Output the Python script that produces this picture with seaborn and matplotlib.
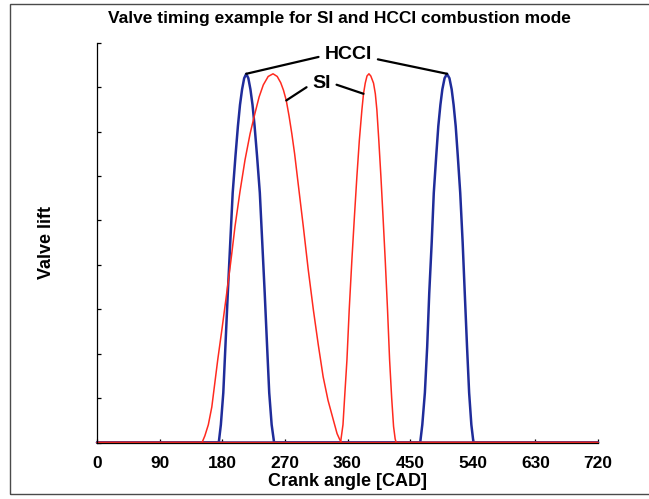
import matplotlib
matplotlib.use("Agg")
import matplotlib.pyplot as plt
import seaborn as sns
import pandas as pd
from matplotlib.patches import Rectangle

# ---------------- data ----------------
hcci_exh_angle = [0, 175, 178, 181.5, 184.5, 188, 191.5, 195, 199, 202.5, 205.5, 208.5, 211.5,
                  214.5, 217.5, 220.5, 223.5, 226.5, 230, 234, 237.5, 241, 244.5, 247.5, 251, 254.5, 720]
hcci_exh_lift = [0, 0, 0.4, 1.12, 2.15, 3.37, 4.5, 5.62, 6.45, 7.12, 7.6, 7.95, 8.2,
                 8.3, 8.2, 7.95, 7.6, 7.12, 6.45, 5.62, 4.5, 3.37, 2.15, 1.12, 0.4, 0, 0]

hcci_int_angle = [0, 464.5, 467.5, 471.2, 474.5, 477.5, 481, 484, 487.5, 490.5, 493.5, 496.3, 499.5,
                  503, 506.5, 509.7, 512.5, 515.5, 518.5, 522, 525.5, 528.5, 531.8, 534.8, 538, 541, 720]
hcci_int_lift = [0, 0, 0.4, 1.12, 2.15, 3.37, 4.5, 5.62, 6.45, 7.12, 7.6, 7.95, 8.2,
                 8.3, 8.2, 7.95, 7.6, 7.12, 6.45, 5.62, 4.5, 3.37, 2.15, 1.12, 0.4, 0, 0]

si_exh_angle = [0, 151, 155, 160, 165, 173.5, 180, 186.4, 192.5, 198.3, 205.5, 212.7, 220, 227, 233,
                239, 246, 253, 259, 264, 268, 272, 276, 280, 284, 289, 296.5, 303.5, 311, 318, 325,
                332, 339.6, 345, 349, 351.5, 720]
si_exh_lift = [0, 0, 0.15, 0.4, 0.8, 1.86, 2.6, 3.36, 4.1, 4.86, 5.65, 6.36, 6.95, 7.41, 7.78,
               8.05, 8.24, 8.3, 8.24, 8.1, 7.93, 7.7, 7.35, 6.95, 6.5, 5.84, 4.86, 3.9, 2.98, 2.2, 1.48,
               0.95, 0.51, 0.2, 0.06, 0, 0]

si_int_angle = [0, 350, 353.5, 356, 359.2, 362.5, 366.3, 370, 373.5, 377, 380.7, 383, 385.5, 388,
                390.8, 393.5, 397.4, 400, 402.2, 405, 408, 411, 414.2, 417.5, 420.5, 423.5,
                426.2, 428.5, 430, 720]
si_int_lift = [0, 0, 0.4, 1.05, 1.86, 3.0, 4.11, 5.1, 5.99, 6.8, 7.49, 7.85, 8.09, 8.25,
               8.3, 8.25, 8.09, 7.85, 7.49, 6.8, 5.99, 5.1, 4.11, 3.0, 1.86, 1.0,
               0.36, 0.08, 0, 0]

x_ticks = [0, 90, 180, 270, 360, 450, 540, 630, 720]
y_ticks = [0, 1, 2, 3, 4, 5, 6, 7, 8, 9]

title = "Valve timing example for SI and HCCI combustion mode"
x_label = "Crank angle [CAD]"
y_label = "Valve lift"

# ---------------- build long-form table ----------------
frames = []
for mode, valve, ang, lift in [("HCCI", "exhaust", hcci_exh_angle, hcci_exh_lift),
                               ("HCCI", "intake", hcci_int_angle, hcci_int_lift),
                               ("SI", "exhaust", si_exh_angle, si_exh_lift),
                               ("SI", "intake", si_int_angle, si_int_lift)]:
    frames.append(pd.DataFrame({"angle": ang, "lift": lift, "mode": mode, "valve": valve}))
df = pd.concat(frames, ignore_index=True)

# ---------------- style ----------------
sns.set_theme(style="ticks")
plt.rcParams["font.family"] = ["Liberation Sans", "DejaVu Sans"]
plt.rcParams["font.weight"] = "bold"
plt.rcParams["text.color"] = "black"
plt.rcParams["axes.labelcolor"] = "black"
plt.rcParams["xtick.color"] = "black"
plt.rcParams["ytick.color"] = "black"

BLUE = "#1f2c9a"
RED = "#ff2a1f"

fig = plt.figure(figsize=(6.49, 4.99), dpi=100)
fig.patch.set_facecolor("white")
ax = fig.add_axes([97 / 649, 1 - 442.5 / 499, (598 - 97) / 649, (442.5 - 42.7) / 499])

sns.lineplot(data=df[df["mode"] == "HCCI"], x="angle", y="lift", units="valve",
             estimator=None, color=BLUE, linewidth=1.8, ax=ax, legend=False, sort=False)
sns.lineplot(data=df[df["mode"] == "SI"], x="angle", y="lift", units="valve",
             estimator=None, color=RED, linewidth=1.1, ax=ax, legend=False, sort=False)
for ln in ax.lines:
    ln.set_clip_on(False)

ax.set_xlim(0, 720)
ax.set_ylim(0, 9)
ax.set_xticks(x_ticks)
ax.set_xticklabels([str(t) for t in x_ticks])
ax.set_yticks(y_ticks)
ax.set_yticklabels([])
ax.tick_params(axis="both", direction="in", length=3, width=0.9, color="black")
ax.tick_params(axis="x", labelsize=12.5, pad=10, labelcolor="black")
for lab in ax.get_xticklabels():
    lab.set_fontweight("bold")
sns.despine(ax=ax)
for s in ("left", "bottom"):
    ax.spines[s].set_linewidth(0.9)
    ax.spines[s].set_color("black")
ax.set_xlabel(x_label, fontsize=13, fontweight="bold", labelpad=1, color="black")
ax.set_ylabel(y_label, fontsize=13, fontweight="bold", labelpad=27, color="black")
fig.text(339 / 649, 1 - 18.5 / 499, title, ha="center", va="center",
         fontsize=12.5, fontweight="bold", color="black")

# ---------------- leader labels ----------------
lead = dict(arrowstyle="-", color="black", lw=1.6, shrinkA=2, shrinkB=0)
i_h1 = hcci_exh_lift.index(max(hcci_exh_lift))
i_h2 = hcci_int_lift.index(max(hcci_int_lift))
ax.annotate("HCCI", xy=(hcci_exh_angle[i_h1], hcci_exh_lift[i_h1]), xytext=(361, 8.73),
            ha="center", va="center", fontsize=14, fontweight="bold", color="black",
            arrowprops=dict(lead, relpos=(0, 0.45)))
ax.annotate("HCCI", xy=(hcci_int_angle[i_h2], hcci_int_lift[i_h2]), xytext=(361, 8.73),
            ha="center", va="center", fontsize=14, fontweight="bold", alpha=0,
            arrowprops=dict(lead, relpos=(1, 0.3)))
i_s1 = si_exh_angle.index(272)
i_s2 = si_int_angle.index(383)
ax.annotate("SI", xy=(si_exh_angle[i_s1], si_exh_lift[i_s1]), xytext=(322.5, 8.08),
            ha="center", va="center", fontsize=14, fontweight="bold", color="black",
            arrowprops=dict(lead, relpos=(0, 0.5)))
ax.annotate("SI", xy=(si_int_angle[i_s2], si_int_lift[i_s2]), xytext=(322.5, 8.08),
            ha="center", va="center", fontsize=14, fontweight="bold", alpha=0,
            arrowprops=dict(lead, relpos=(1, 0.55)))

# outer frame of the picture (open on the right)
fig.patches.append(Rectangle((10 / 649, 1 - 494 / 499), 1.2, (494 - 4) / 499,
                             transform=fig.transFigure, fill=False,
                             edgecolor="#4a4a4a", linewidth=1.0))

fig.savefig("out.png", dpi=100, facecolor="white")
